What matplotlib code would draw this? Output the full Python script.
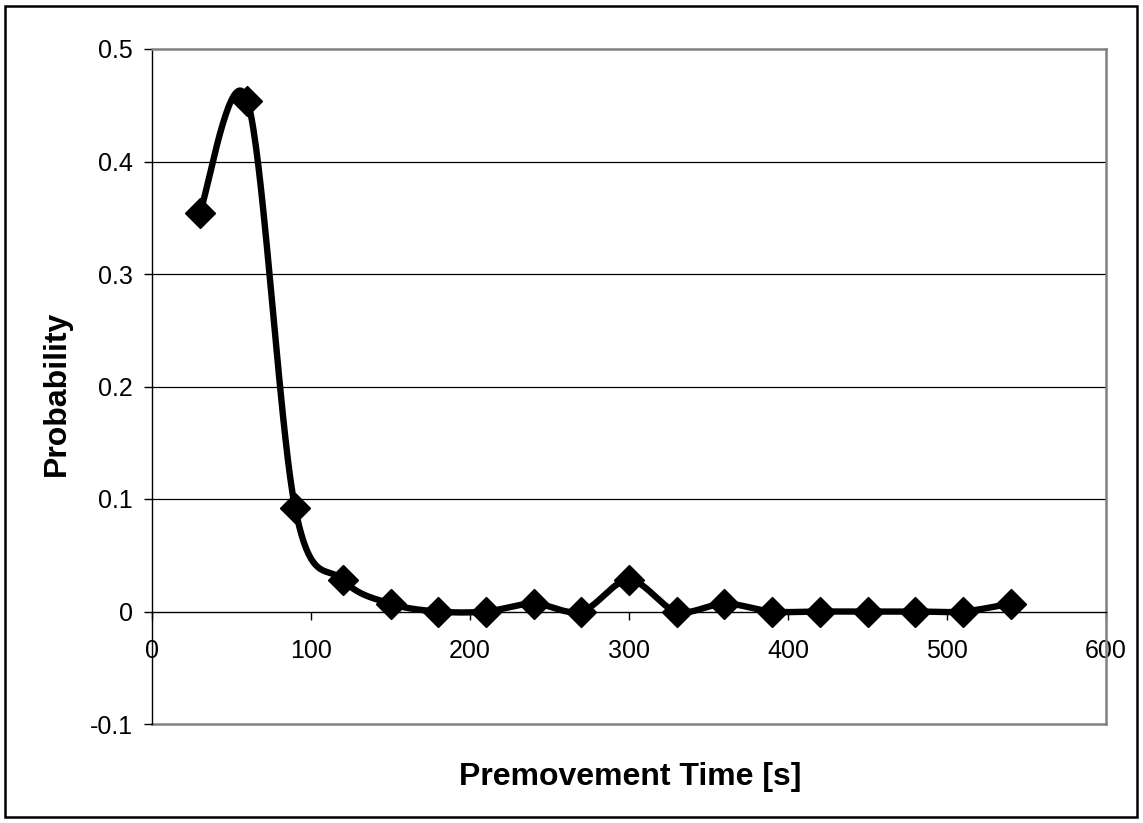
import numpy as np
import matplotlib
matplotlib.use('Agg')
import matplotlib.pyplot as plt
from matplotlib.patches import Rectangle

plt.rcParams['font.family'] = ['Liberation Sans', 'DejaVu Sans']

# Premovement time bins [s] and their probabilities
premovement_time = [30, 60, 90, 120, 150, 180, 210, 240, 270, 300,
                    330, 360, 390, 420, 450, 480, 510, 540]
probability = [0.354, 0.454, 0.092, 0.028, 0.007, 0.0, 0.0, 0.007, 0.0, 0.028,
               0.0, 0.007, 0.0, 0.0, 0.0, 0.0, 0.0, 0.007]

x_ticks = [0, 100, 200, 300, 400, 500, 600]
y_ticks = [-0.1, 0, 0.1, 0.2, 0.3, 0.4, 0.5]
y_tick_labels = ['-0.1', '0', '0.1', '0.2', '0.3', '0.4', '0.5']


def smooth_curve(x, y, steps=40):
    '''Spreadsheet-style smoothed line: cubic Bezier segments with
    control points taken from the neighbouring points (1/6 rule).'''
    pts = np.column_stack([x, y]).astype(float)
    n = len(pts)
    out = []
    for i in range(n - 1):
        p0 = pts[i]
        p3 = pts[i + 1]
        prev = pts[i - 1] if i > 0 else pts[i]
        nxt = pts[i + 2] if i + 2 < n else pts[i + 1]
        c1 = p0 + (p3 - prev) / 6.0
        c2 = p3 - (nxt - p0) / 6.0
        t = np.linspace(0, 1, steps)[:, None]
        seg = ((1 - t) ** 3) * p0 + 3 * ((1 - t) ** 2) * t * c1 \
            + 3 * (1 - t) * t ** 2 * c2 + t ** 3 * p3
        out.append(seg if i == 0 else seg[1:])
    curve = np.vstack(out)
    return curve[:, 0], curve[:, 1]


W, H = 1143, 823
fig = plt.figure(figsize=(W / 100, H / 100), dpi=100)
ax = fig.add_axes([152 / W, 1 - 724 / H, (1106 - 152) / W, (724 - 49) / H])

# horizontal gridlines
for yv in [0.1, 0.2, 0.3, 0.4]:
    ax.axhline(yv, color='black', lw=0.9, zorder=1)
# bottom edge of the plot area
ax.axhline(-0.1, color='#808080', lw=1.8, zorder=1, clip_on=False)

sx, sy = smooth_curve(premovement_time, probability)
ax.plot(sx, sy, color='black', lw=4.6, solid_joinstyle='round',
        solid_capstyle='round', zorder=3)
ax.plot(premovement_time, probability, linestyle='none', marker='D',
        markersize=15, color='black', zorder=4)

ax.set_xlim(0, 600)
ax.set_ylim(-0.1, 0.5)
ax.set_xticks(x_ticks)
ax.set_yticks(y_ticks)
ax.set_yticklabels(y_tick_labels)

ax.spines['bottom'].set_position(('data', 0))
ax.spines['bottom'].set_linewidth(1.0)
ax.spines['left'].set_linewidth(1.0)
ax.spines['top'].set_color('#808080')
ax.spines['top'].set_linewidth(1.8)
ax.spines['right'].set_color('#808080')
ax.spines['right'].set_linewidth(1.8)

ax.tick_params(axis='x', direction='out', length=6, width=1, pad=14,
               labelsize=18)
ax.tick_params(axis='y', direction='out', length=6, width=1, pad=8,
               labelsize=18)

fig.text(0.050, 1 - 393 / H, 'Probability', rotation=90, ha='center',
         va='center', fontsize=23, fontweight='bold')
fig.text(630 / W, 1 - 785 / H, 'Premovement Time [s]', ha='center',
         va='baseline', fontsize=23, fontweight='bold')

# outer chart border
fig.patches.append(Rectangle((5 / W, 6 / H), 1 - 11 / W, 1 - 12 / H,
                             transform=fig.transFigure, fill=False,
                             edgecolor='black', lw=1.8))

fig.savefig('out.png', dpi=100)
